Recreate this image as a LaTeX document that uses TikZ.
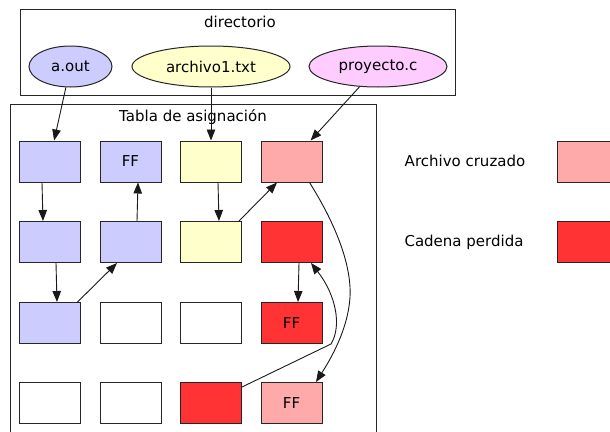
\documentclass[tikz,border=0pt]{standalone}
\usepackage{fontspec}
\setmainfont{DejaVu Sans}
\usetikzlibrary{shapes.geometric,arrows.meta}
\definecolor{blu}{HTML}{CCCCFF}
\definecolor{yel}{HTML}{FFFFCC}
\definecolor{pnk}{HTML}{FFCCFF}
\definecolor{lred}{HTML}{FFAAAA}
\definecolor{dred}{HTML}{FF3333}
\newcommand{\fsz}{\fontsize{15}{18}\selectfont}
\tikzset{
  cell/.style={draw=black!85, minimum width=61pt, minimum height=41pt, inner sep=0pt, line width=1pt, font=\fsz},
  ell/.style={ellipse, draw=black!85, inner sep=0pt, minimum height=41pt, line width=1pt, font=\fsz},
  cluster/.style={draw=black!85, line width=1pt},
  lbl/.style={font=\fsz, inner sep=0pt},
  conn/.style={-{Triangle[length=11pt,width=8.5pt]}, line width=0.9pt, draw=black!90},
}
\begin{document}
\begin{tikzpicture}[x=1pt,y=-1pt]
\clip (0,0) rectangle (610,431);
\fill[white] (0,0) rectangle (610,431);
% clusters
\draw[cluster] (20,9) rectangle (455,95);
\node[lbl] (dirlbl) at (240,22) {directorio};
\draw[cluster] (10,104) rectangle (376,445);
\node[lbl] (tablbl) at (193,117) {Tabla de asignación};
% directory entries
\node[ell, fill=blu, minimum width=83pt] (aout) at (70.5,66.5) {a.out};
\node[ell, fill=yel, minimum width=158pt] (arch) at (211,66.5) {archivo1.txt};
\node[ell, fill=pnk, minimum width=138pt] (proy) at (378,66.5) {proyecto.c};
% table cells
\node[cell, fill=blu] (r11) at (49.5,161.5) {};
\node[cell, fill=blu] (r12) at (130.5,161.5) {FF};
\node[cell, fill=yel] (r13) at (211,161.5) {};
\node[cell, fill=lred] (r14) at (291.5,161.5) {};
\node[cell, fill=blu] (r21) at (49.5,242) {};
\node[cell, fill=blu] (r22) at (130.5,242) {};
\node[cell, fill=yel] (r23) at (211,242) {};
\node[cell, fill=dred] (r24) at (291.5,242) {};
\node[cell, fill=blu] (r31) at (49.5,323) {};
\node[cell, fill=white] (r32) at (130.5,323) {};
\node[cell, fill=white] (r33) at (211,323) {};
\node[cell, fill=dred] (r34) at (291.5,323) {FF};
\node[cell, fill=white] (r41) at (49.5,403) {};
\node[cell, fill=white] (r42) at (130.5,403) {};
\node[cell, fill=dred] (r43) at (211,403) {};
\node[cell, fill=lred] (r44) at (291.5,403) {FF};
% legend
\node[lbl] (lg1) at (465,161) {Archivo cruzado};
\node[cell, fill=lred] (lb1) at (587.5,161.5) {};
\node[lbl] (lg2) at (464,242) {Cadena perdida};
\node[cell, fill=dred] (lb2) at (587.5,242) {};
% connectors
\draw[conn] (aout) -- (r11);
\draw[conn] (arch) -- (r13);
\draw[conn] (proy) -- (r14);
\draw[conn] ([xshift=-7.5pt]r11.south) -- ([xshift=-6.5pt]r21.north);
\draw[conn] ([xshift=6.5pt]r21.south) -- ([xshift=7.5pt]r31.north);
\draw[conn] ([xshift=-3pt]r31.north east) -- ([xshift=-13.5pt]r22.south);
\draw[conn] ([xshift=6.5pt]r22.north) -- ([xshift=7.5pt]r12.south);
\draw[conn] ([xshift=7pt]r13.south) -- ([xshift=8pt]r23.north);
\draw[conn] ([xshift=-3pt]r23.north east) -- ([xshift=-14.5pt]r14.south);
\draw[conn] ([xshift=7.5pt]r24.south) -- ([xshift=6.5pt]r34.north);
\draw[conn] ([xshift=18pt]r14.south) .. controls (330,215) and (352,260) .. (350,297)
   .. controls (348,330) and (330,360) .. ([xshift=24.5pt]r44.north);
\draw[conn] ([yshift=-5pt]r43.north east) -- (331,344)
   .. controls (342,326) and (336,295) .. ([xshift=19.5pt]r24.south);
\end{tikzpicture}
\end{document}
